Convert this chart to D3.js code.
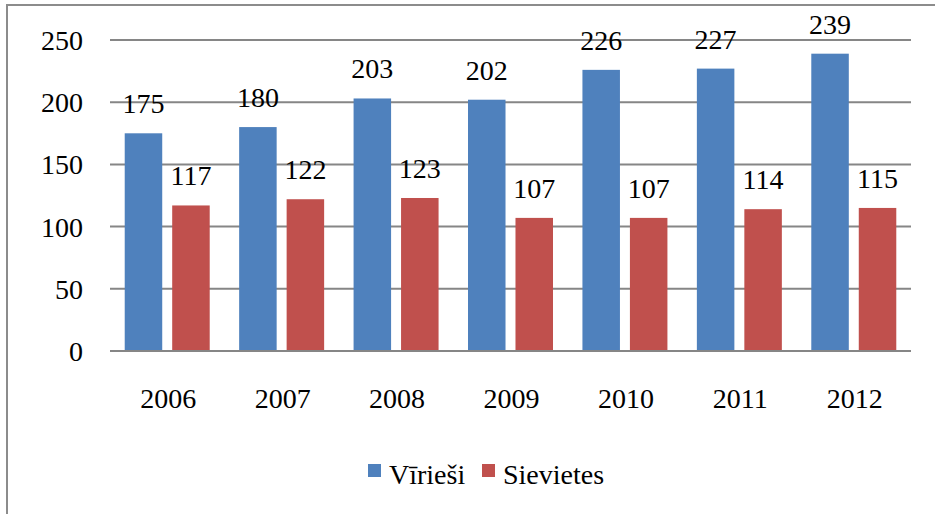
<!DOCTYPE html>
<html><head><meta charset="utf-8">
<script src="https://cdn.jsdelivr.net/npm/d3@7"></script>
<style>body{margin:0;background:#fff}svg{display:block}</style>
</head><body>
<script>
const categories = ["2006","2007","2008","2009","2010","2011","2012"];
const seriesNames = ["Vīrieši","Sievietes"];
const seriesColors = ["#4F81BD","#C0504D"];
const viriesi = [175,180,203,202,226,227,239];
const sievietes = [117,122,123,107,107,114,115];
const yTicks = [0,50,100,150,200,250];

const FONT = "'Liberation Serif', 'Times New Roman', Tinos, 'DejaVu Serif', serif";
const W=935,H=514;
const svg=d3.select("body").append("svg").attr("width",W).attr("height",H)
  .style("font-family",FONT);
svg.append("rect").attr("width",W).attr("height",H).attr("fill","#fff");
svg.append("path").attr("d","M7,514 V5 H935").attr("fill","none").attr("stroke","#8c8c8c").attr("stroke-width",2);

const x=d3.scaleBand().domain(categories).range([110,911]).padding(0);
const xs=d3.scaleBand().domain(seriesNames).range([0,x.bandwidth()]).paddingInner(0.21).paddingOuter(0.31);
const y=d3.scaleLinear().domain([0,250]).range([351,40]);

svg.append("g").selectAll("line").data(yTicks.filter(d=>d>0)).join("line")
 .attr("x1",110).attr("x2",911).attr("y1",d=>y(d)).attr("y2",d=>y(d))
 .attr("stroke","#868686").attr("stroke-width",2);

function txt(sel){ return sel.style("font-family",FONT).attr("font-size",28).attr("fill","#000"); }

txt(svg.append("g").selectAll("text").data(yTicks).join("text")
 .attr("x",83).attr("y",d=>y(d)+10).attr("text-anchor","end").text(d=>d));

const data=[viriesi,sievietes];
data.forEach((vals,si)=>{
  svg.append("g").selectAll("rect").data(vals).join("rect")
   .attr("x",(d,i)=>x(categories[i])+xs(seriesNames[si]))
   .attr("width",xs.bandwidth())
   .attr("y",d=>y(d)).attr("height",d=>y(0)-y(d))
   .attr("fill",seriesColors[si]);
});
svg.append("line").attr("x1",110).attr("x2",911).attr("y1",y(0)).attr("y2",y(0)).attr("stroke","#868686").attr("stroke-width",2);

data.forEach((vals,si)=>{
  txt(svg.append("g").selectAll("text").data(vals).join("text")
   .attr("x",(d,i)=>x(categories[i])+xs(seriesNames[si])+xs.bandwidth()/2)
   .attr("y",d=>y(d)-20).attr("text-anchor","middle").text(d=>d));
});

txt(svg.append("g").selectAll("text").data(categories).join("text")
 .attr("x",d=>x(d)+x.bandwidth()/2+1).attr("y",408).attr("text-anchor","middle").text(d=>d));

const leg=[{x:368,tx:389},{x:482,tx:503}];
seriesNames.forEach((n,i)=>{
  svg.append("rect").attr("x",leg[i].x).attr("y",464).attr("width",13).attr("height",13).attr("fill",seriesColors[i]);
  txt(svg.append("text").attr("x",leg[i].tx).attr("y",484).text(n));
});
</script>
</body></html>
